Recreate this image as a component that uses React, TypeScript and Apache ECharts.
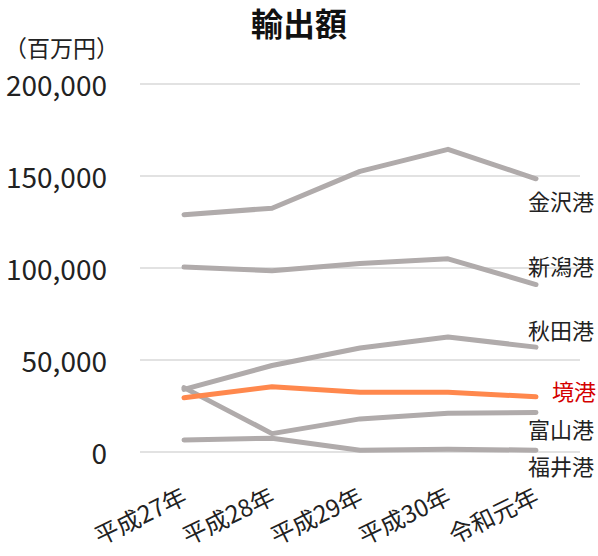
import React, { useEffect, useRef } from "react";
import * as echarts from "echarts";

const categories = ["平成27年", "平成28年", "平成29年", "平成30年", "令和元年"];
const kanazawa = [129000, 132500, 152500, 164500, 148500];
const niigata = [100500, 98500, 102500, 105000, 91000];
const akita = [34000, 47000, 56500, 62500, 57000];
const toyama = [35000, 10000, 18000, 21000, 21500];
const fukui = [6500, 7500, 1000, 1500, 1000];
const sakai = [29500, 35500, 32500, 32500, 30000];

const FONT = "'Noto Sans CJK JP', 'Noto Sans', sans-serif";
const GRAY = "#b0abab";
const ORANGE = "#ff884d";

function mk(name: string, data: number[], color: string, labelColor: string, offset: number[]) {
  return {
    name,
    type: "line",
    data,
    symbol: "none",
    lineStyle: { color, width: 5, cap: "round", join: "round" },
    itemStyle: { color },
    endLabel: {
      show: true,
      formatter: name,
      color: labelColor,
      fontSize: 22,
      fontFamily: FONT,
      distance: 0,
      offset,
      align: "left",
      verticalAlign: "middle",
    },
  };
}

export default function App() {
  const ref = useRef<HTMLDivElement>(null);
  useEffect(() => {
    const chart = echarts.init(ref.current!, undefined, { renderer: "svg" });
    chart.setOption({
      animation: false,
      backgroundColor: "#ffffff",
      title: [
        {
          text: "輸出額",
          left: "center",
          top: 6,
          padding: 0,
          textStyle: { fontSize: 32, fontWeight: "bold", fontFamily: FONT, color: "#111" },
        },
        {
          text: "（百万円）",
          left: 4,
          top: 35,
          padding: 0,
          textStyle: { fontSize: 23, fontWeight: "normal", fontFamily: FONT, color: "#222" },
        },
      ],
      grid: { left: 140, right: 18, top: 84, bottom: 104, containLabel: false },
      xAxis: {
        type: "category",
        data: categories,
        boundaryGap: true,
        axisLine: { show: false },
        axisTick: { show: false },
        axisLabel: {
          rotate: 26,
          fontSize: 24,
          fontFamily: FONT,
          color: "#222",
          margin: 41,
          interval: 0,
        },
      },
      yAxis: {
        type: "value",
        min: 0,
        max: 200000,
        interval: 50000,
        axisLine: { show: false },
        axisTick: { show: false },
        splitLine: { lineStyle: { color: "#d9d9d9", width: 1.5 } },
        axisLabel: {
          fontSize: 28,
          fontFamily: FONT,
          color: "#222",
          margin: 33,
          formatter: (v: number) => v.toLocaleString("en-US"),
        },
      },
      series: [
        mk("金沢港", kanazawa, GRAY, "#222", [-8, 21]),
        mk("新潟港", niigata, GRAY, "#222", [-8, -20]),
        mk("秋田港", akita, GRAY, "#222", [-8, -18]),
        mk("富山港", toyama, GRAY, "#222", [-8, 16]),
        mk("福井港", fukui, GRAY, "#222", [-8, 15]),
        mk("境港", sakai, ORANGE, "#d40000", [16, -7]),
      ],
    });
    return () => chart.dispose();
  }, []);
  return (
    <div
      ref={ref}
      style={{ position: "absolute", left: 0, top: 0, width: 598, height: 556 }}
    />
  );
}
